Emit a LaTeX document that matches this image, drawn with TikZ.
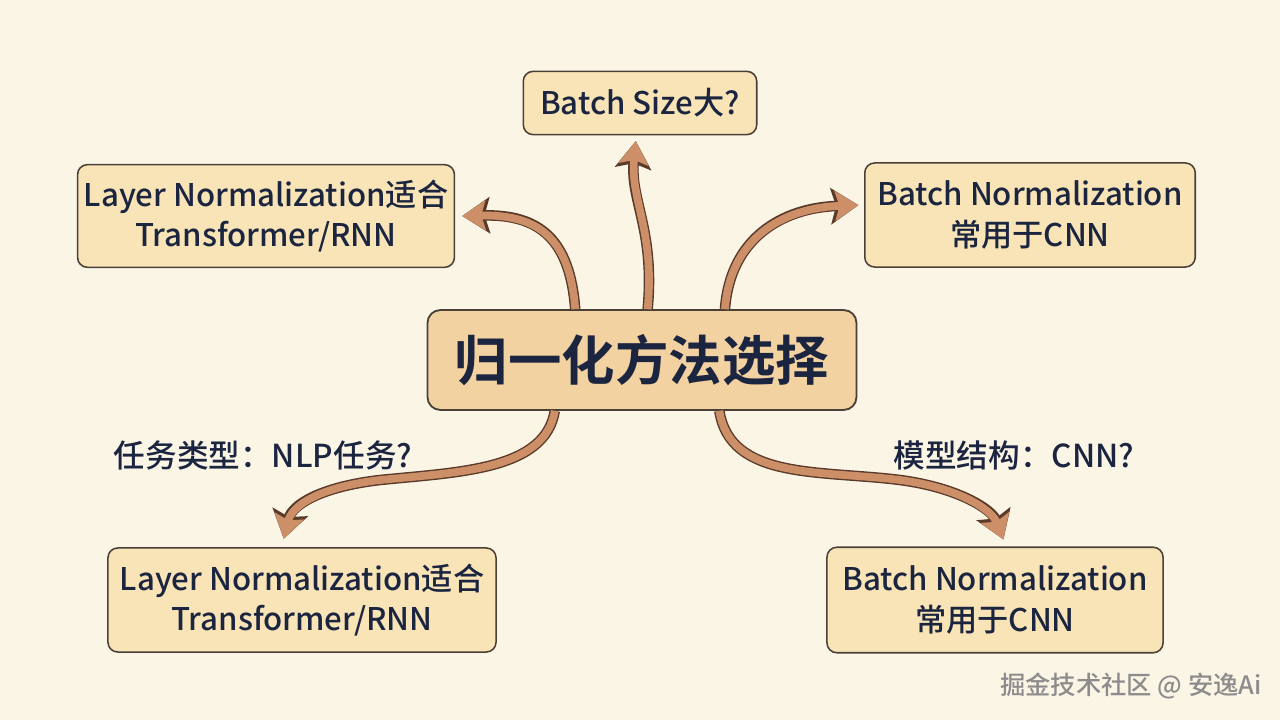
\documentclass[tikz,border=0pt]{standalone}
\usepackage{fontspec}
\setmainfont{Noto Sans CJK SC}[UprightFont={* Medium},BoldFont={* Bold}]
\usepackage{xcolor}
\usetikzlibrary{arrows.meta}
\definecolor{paper}{HTML}{FBF5E6}
\definecolor{boxfill}{HTML}{F8E4B6}
\definecolor{hubfill}{HTML}{F3D2A2}
\definecolor{edge}{HTML}{4A4038}
\definecolor{ink}{HTML}{1B2540}
\definecolor{arrowbrown}{HTML}{CC8F68}
\definecolor{arrowedge}{HTML}{5A3B2A}
\tikzset{
  card/.style={draw=edge, line width=1.1pt, fill=boxfill, rounded corners=7pt,
    text=ink, align=center, font=\fontsize{22.2}{29}\selectfont},
  conn/.style={line width=5.5pt, draw=arrowbrown, -{Stealth[length=16.5pt,width=21pt,inset=3pt]},
    preaction={draw=arrowedge, line width=7.5pt, -{Stealth[length=19.5pt,width=25.5pt,inset=3.6pt]}}}
}

\begin{document}
\begin{tikzpicture}[x=0.025cm,y=-0.025cm]
\fill[paper] (0,0) rectangle (1280,720);
\useasboundingbox (0,0) rectangle (1280,720);
% boxes
\node[card, minimum width=166pt, minimum height=45pt] (bsize) at (640,103) {Batch Size大?};
\node[card, minimum width=268pt, minimum height=73pt] (ln1) at (266,216) {Layer Normalization适合\\Transformer/RNN};
\node[card, minimum width=235pt, minimum height=74pt] (bn1) at (1030,215) {Batch Normalization\\常用于CNN};
\node[card, fill=hubfill, line width=1.3pt, rounded corners=9pt, minimum width=305pt, minimum height=71pt,
  font=\fontsize{38}{40}\selectfont\bfseries] (hub) at (642,360) {归一化方法选择};
\node[card, minimum width=276pt, minimum height=74pt] (ln2) at (302,600) {Layer Normalization适合\\Transformer/RNN};
\node[card, minimum width=239pt, minimum height=75pt] (bn2) at (995,600) {Batch Normalization\\常用于CNN};
% labels
\node[text=ink, font=\fontsize{22.5}{26}\selectfont] (nlp) at (263,455) {任务类型：NLP任务?};
\node[text=ink, font=\fontsize{22.5}{26}\selectfont] (cnn) at (1014,455) {模型结构：CNN?};
\node[text=black!45, font=\fontsize{18}{20}\selectfont] (mark) at (1131,686) {掘金技术社区 @ 安逸Ai};
% arrows
\draw[conn] ([xshift=4pt]hub.north) .. controls (655,230) and (630,200) .. ([xshift=-3pt,yshift=-4pt]bsize.south);
\draw[conn] ([xshift=-47.5pt]hub.north) .. controls (570,240) and (540,214) .. ([xshift=5pt]ln1.east);
\draw[conn] ([xshift=59pt]hub.north) .. controls (730,240) and (780,208) .. ([xshift=-4pt,yshift=7pt]bn1.west);
\draw[conn] ([xshift=-62pt]hub.south) .. controls (545,470) and (460,472) .. (380,480)
  .. controls (320,487) and (292,505) .. ([xshift=-13pt,yshift=6pt]ln2.north);
\draw[conn] ([xshift=55pt]hub.south) .. controls (730,480) and (820,470) .. (900,480)
  .. controls (960,488) and (992,510) .. ([xshift=6pt,yshift=5pt]bn2.north);
\end{tikzpicture}
\end{document}
